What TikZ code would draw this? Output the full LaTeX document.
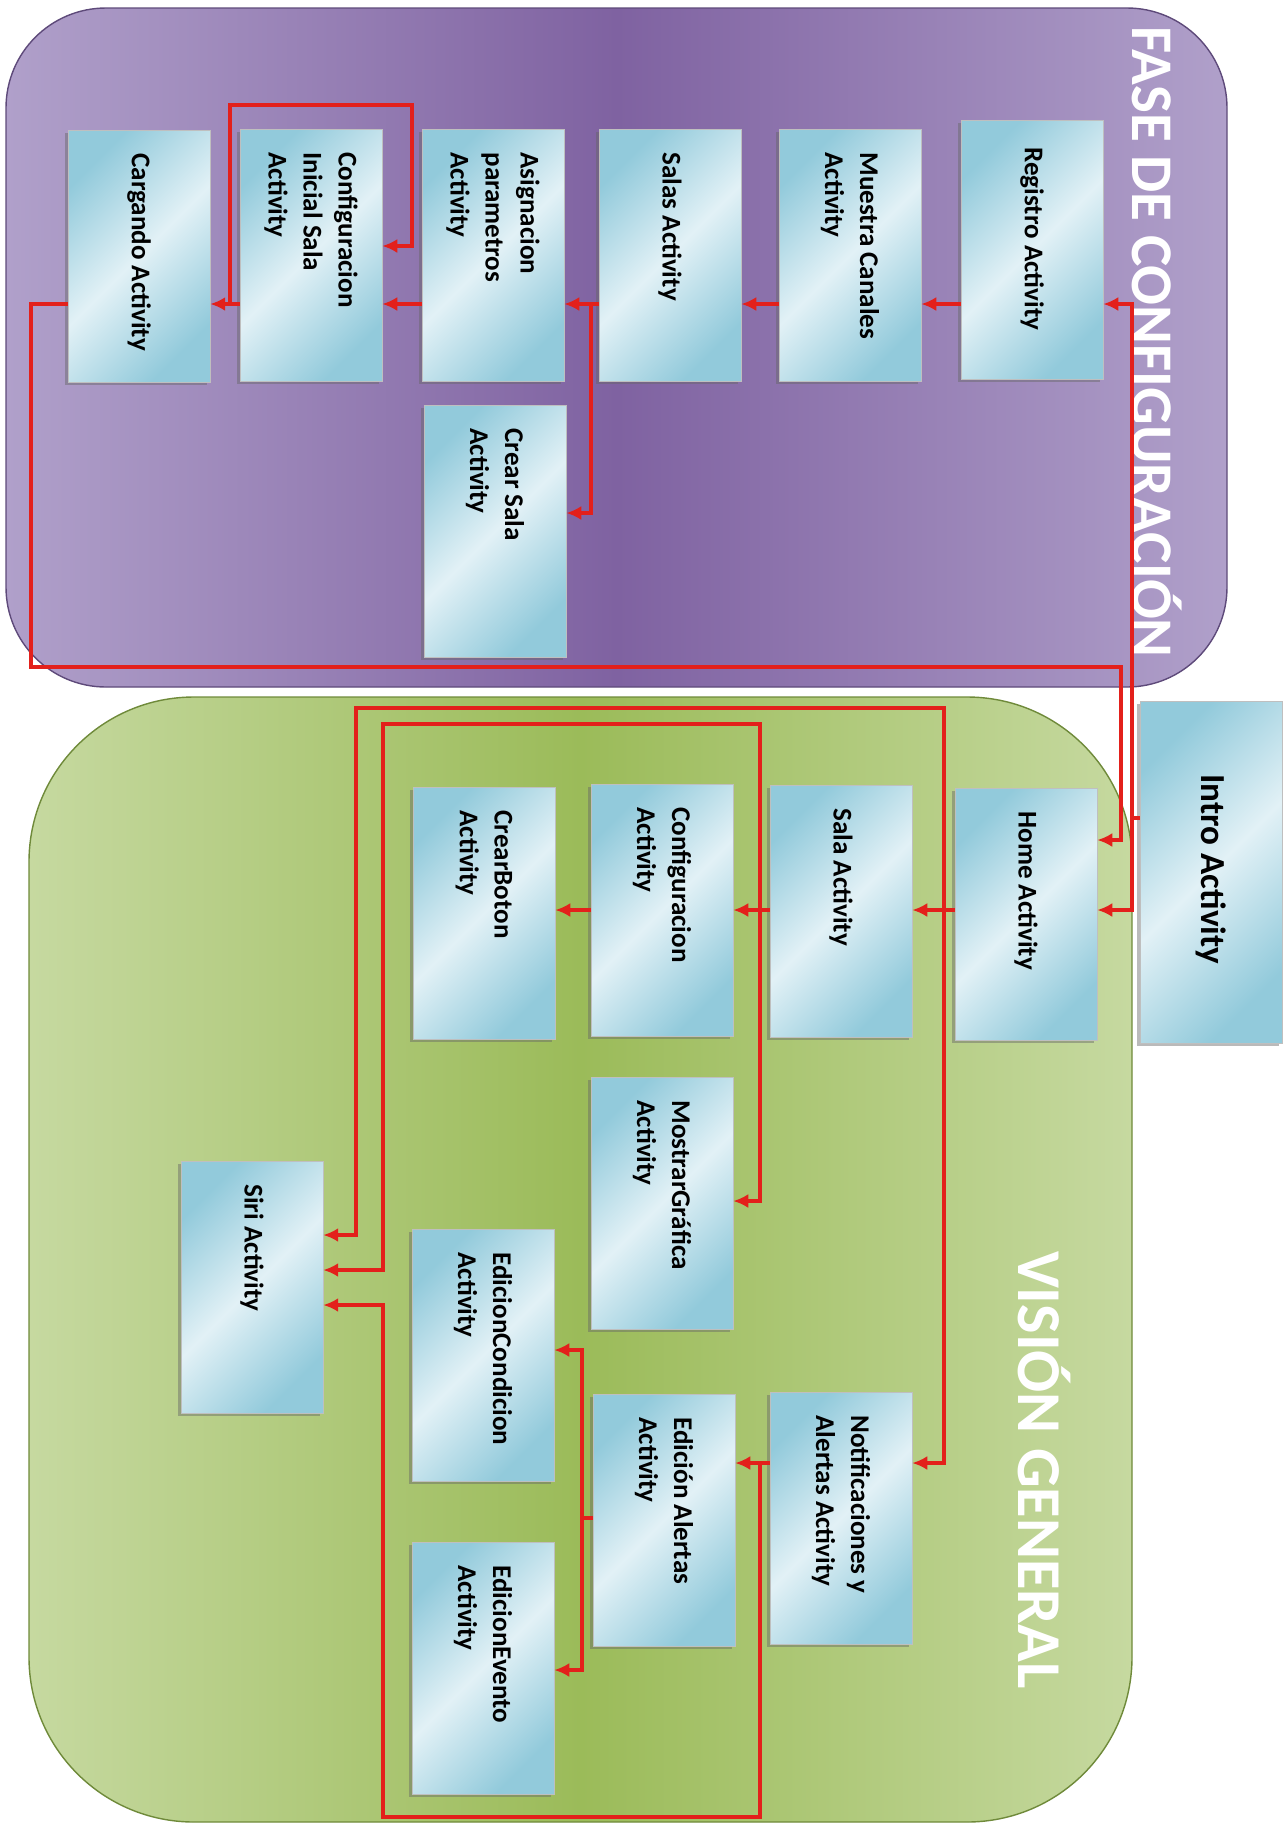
\documentclass[tikz,border=0pt]{standalone}
\usepackage{fontspec}
\usepackage{graphicx}
\setmainfont{Carlito}
\usetikzlibrary{arrows.meta,shadows}

\definecolor{lila}{HTML}{7F62A1}
\definecolor{lilaclaro}{HTML}{B0A0CA}
\definecolor{lilaborde}{HTML}{5E4A7A}
\definecolor{verde}{HTML}{9BBB59}
\definecolor{verdeclaro}{HTML}{C6D9A0}
\definecolor{verdeborde}{HTML}{6F8A3A}
\definecolor{cajaosc}{HTML}{92CADB}
\definecolor{cajacla}{HTML}{E2F1F6}
\definecolor{flecha}{HTML}{E3201B}

% texto girado dentro de cada caja
\newcommand{\girado}[2][4.1cm]{\rotatebox[origin=c]{-90}{\parbox{#1}{\raggedright #2}}}

\begin{document}
\begin{tikzpicture}[x=0.02cm, y=-0.02cm,
    actividad/.style={rectangle, draw=gray!50, line width=0.3pt,
        left color=cajaosc, right color=cajaosc, middle color=cajacla, shading angle=45,
        minimum width=2.84cm, minimum height=5.04cm, inner sep=0pt,
        font=\bfseries\fontsize{15.4}{19.9}\selectfont,
        drop shadow={shadow xshift=-1.6pt, shadow yshift=-1.6pt, opacity=0.45, fill=black!60}},
    flujo/.style={draw=flecha, line width=1.9pt, -{Latex[length=0.3cm, width=0.28cm]}},
    titulo/.style={rotate=-90, text=white, font=\bfseries\fontsize{34}{40}\selectfont}
]
    \useasboundingbox (0,0) rectangle (1288,1823);

    % Regiones
    \draw[draw=lilaborde, line width=0.8pt, rounded corners=2cm,
        left color=lilaclaro, right color=lilaclaro, middle color=lila] (6,8) rectangle (1227,687);
    \draw[draw=verdeborde, line width=0.8pt, rounded corners=3.3cm,
        left color=verdeclaro, right color=verdeclaro, middle color=verde] (29,697) rectangle (1132,1822);

    \node[titulo, font=\bfseries\fontsize{33.6}{40}\selectfont] (tfase) at (1157,342) {FASE DE CONFIGURACIÓN};
    \node[titulo, font=\bfseries\fontsize{35.5}{40}\selectfont] (tvision) at (1044,1470) {VISIÓN GENERAL};

    % Fase de configuracion
    \node[actividad, minimum height=5.18cm] (registro) at (1032,250) {\girado{Registro Activity}};
    \node[actividad] (muestra) at (850,255) {\girado{Muestra Canales\\Activity}};
    \node[actividad] (salas) at (670,255) {\girado{Salas Activity}};
    \node[actividad] (asignacion) at (493,255) {\girado{Asignacion\\parametros\\Activity}};
    \node[actividad] (confini) at (311,255) {\girado{Configuracion\\Inicial Sala\\Activity}};
    \node[actividad] (cargando) at (139,256) {\girado{Cargando Activity}};
    \node[actividad] (crearsala) at (495,531) {\girado{Crear Sala\\Activity}};

    % Vision general
    \node[actividad, minimum height=6.84cm,
        font=\bfseries\fontsize{20}{24}\selectfont] (intro) at (1211,872) {\girado[3.9cm]{Intro Activity}};
    \node[actividad] (home) at (1026,914) {\girado{Home Activity}};
    \node[actividad] (sala) at (841,911) {\girado{Sala Activity}};
    \node[actividad] (config) at (662,910) {\girado{Configuracion\\Activity}};
    \node[actividad] (crearboton) at (484,913) {\girado{CrearBoton\\Activity}};
    \node[actividad] (mostrar) at (662,1203) {\girado{MostrarGráfica\\Activity}};
    \node[actividad] (siri) at (252,1287) {\girado{Siri Activity}};
    \node[actividad] (edcond) at (483,1355) {\girado{EdicionCondicion\\Activity}};
    \node[actividad] (notif) at (841,1518) {\girado{Notificaciones y\\Alertas Activity}};
    \node[actividad] (edalertas) at (664,1520) {\girado{Edición Alertas\\Activity}};
    \node[actividad] (edevento) at (483,1668) {\girado{EdicionEvento\\Activity}};

    % Flechas fase de configuracion
    \draw[flujo] (intro.west |- 0,818) -| (1132,304) -- (registro.east |- 0,304);
    \draw[flujo] (1132,818) |- (home.east |- 0,910);
    \draw[flujo] (registro.west |- 0,304) -- (muestra.east |- 0,304);
    \draw[flujo] (muestra.west |- 0,304) -- (salas.east |- 0,304);
    \draw[flujo] (salas.west |- 0,304) -- (asignacion.east |- 0,304);
    \draw[flujo] (591,304) |- (crearsala.east |- 0,513);
    \draw[flujo] (asignacion.west |- 0,304) -- (confini.east |- 0,304);
    \draw[flujo] (confini.west |- 0,304) -- (cargando.east |- 0,304);
    \draw[flujo] (230,304) |- (412,105) |- (confini.east |- 0,246);
    \draw[flujo] (cargando.west |- 0,304) -| (31,667) -| (1121,840) -- (home.east |- 0,840);

    % Flechas vision general
    \draw[flujo] (home.west |- 0,910) -- (sala.east |- 0,910);
    \draw[flujo] (944,910) |- (356,708) |- (siri.east |- 0,1235);
    \draw[flujo] (944,910) |- (notif.east |- 0,1463);
    \draw[flujo] (sala.west |- 0,910) -- (config.east |- 0,910);
    \draw[flujo] (760,910) |- (383,724) |- (siri.east |- 0,1270);
    \draw[flujo] (760,910) |- (mostrar.east |- 0,1201);
    \draw[flujo] (config.west |- 0,910) -- (crearboton.east |- 0,910);
    \draw[flujo] (notif.west |- 0,1463) -- (edalertas.east |- 0,1463);
    \draw[flujo] (760,1463) |- (383,1817) |- (siri.east |- 0,1305);
    \draw[flujo] (edalertas.west |- 0,1518) -| (582,1350) -- (edcond.east |- 0,1350);
    \draw[flujo] (582,1518) |- (edevento.east |- 0,1670);
\end{tikzpicture}
\end{document}
